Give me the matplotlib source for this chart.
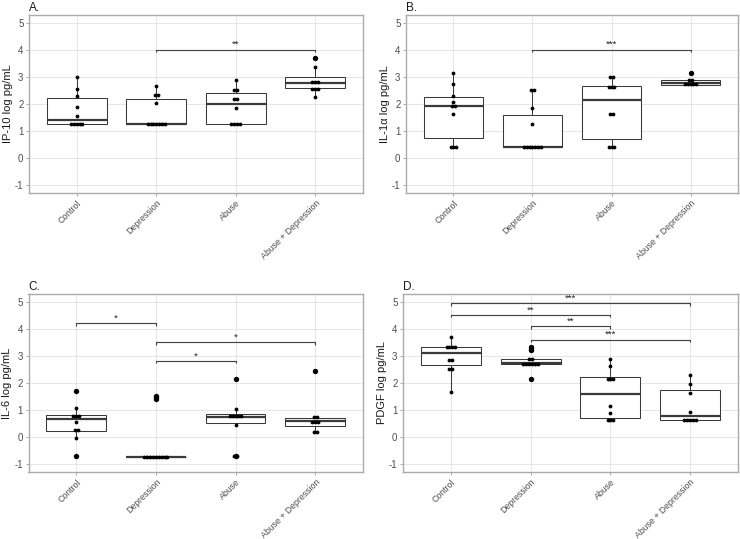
import matplotlib
matplotlib.use("Agg")
import matplotlib.pyplot as plt
from collections import Counter

plt.rcParams['font.family'] = ['Liberation Sans', 'DejaVu Sans']
plt.rcParams['axes.unicode_minus'] = False

categories = ["Control", "Depression", "Abuse", "Abuse + Depression"]
yticks = [-1, 0, 1, 2, 3, 4, 5]

# ---------------- Panel A: IP-10 ----------------
ip10_control = [3.00, 2.57, 2.31, 1.89, 1.54, 1.25, 1.25, 1.25, 1.25, 1.25]
ip10_depression = [2.66, 2.35, 2.35, 2.02, 1.25, 1.25, 1.25, 1.25, 1.25, 1.25, 1.25]
ip10_abuse = [2.90, 2.52, 2.52, 2.20, 2.20, 1.86, 1.25, 1.25, 1.25, 1.25]
ip10_abuse_dep = [3.69, 3.37, 2.81, 2.81, 2.81, 2.57, 2.57, 2.57, 2.26]
ip10_q1 = [1.25, 1.25, 1.25, 2.60]
ip10_med = [1.40, 1.25, 2.00, 2.78]
ip10_q3 = [2.22, 2.17, 2.39, 2.99]
ip10_lo = [1.25, 1.25, 1.25, 2.26]
ip10_hi = [3.00, 2.66, 2.90, 3.37]
ip10_out = [[], [], [], [3.69]]
ip10_sig_from = ["Depression"]
ip10_sig_to = ["Abuse + Depression"]
ip10_sig_y = [4.0]
ip10_sig_lab = ["**"]

# ---------------- Panel B: IL-1a ----------------
il1a_control = [3.16, 2.74, 2.28, 2.06, 1.93, 1.93, 1.62, 0.42, 0.42, 0.42]
il1a_depression = [2.50, 2.50, 1.87, 1.28, 0.42, 0.42, 0.42, 0.42, 0.42, 0.42, 0.42]
il1a_abuse = [3.00, 3.00, 2.63, 2.63, 2.63, 1.62, 1.62, 0.42, 0.42, 0.42]
il1a_abuse_dep = [3.15, 2.88, 2.88, 2.73, 2.73, 2.73, 2.73, 2.73]
il1a_q1 = [0.73, 0.42, 0.72, 2.70]
il1a_med = [1.93, 0.42, 2.13, 2.79]
il1a_q3 = [2.24, 1.58, 2.67, 2.87]
il1a_lo = [0.42, 0.42, 0.42, 2.70]
il1a_hi = [3.16, 2.50, 3.00, 2.88]
il1a_out = [[], [], [], [3.15]]
il1a_sig_from = ["Depression"]
il1a_sig_to = ["Abuse + Depression"]
il1a_sig_y = [4.0]
il1a_sig_lab = ["***"]

# ---------------- Panel C: IL-6 ----------------
il6_control = [1.72, 1.08, 0.78, 0.78, 0.78, 0.56, 0.27, 0.27, -0.04, -0.70]
il6_depression = [1.42, 1.47, 1.52] + [-0.71] * 9
il6_abuse = [2.16, 1.05, 0.80, 0.80, 0.80, 0.80, 0.80, 0.44, -0.70, -0.70]
il6_abuse_dep = [2.43, 0.74, 0.74, 0.56, 0.56, 0.56, 0.21, 0.21]
il6_q1 = [0.22, -0.71, 0.51, 0.41]
il6_med = [0.69, -0.71, 0.76, 0.59]
il6_q3 = [0.81, -0.71, 0.86, 0.72]
il6_lo = [-0.04, -0.71, 0.44, 0.21]
il6_hi = [1.08, -0.71, 1.05, 0.74]
il6_out = [[1.72, -0.70], [1.42, 1.47, 1.52], [2.16, -0.70], [2.43]]
il6_sig_from = ["Control", "Depression", "Depression"]
il6_sig_to = ["Depression", "Abuse + Depression", "Abuse"]
il6_sig_y = [4.20, 3.50, 2.81]
il6_sig_lab = ["*", "*", "*"]

# ---------------- Panel D: PDGF ----------------
pdgf_control = [3.70, 3.34, 3.34, 3.34, 3.34, 2.86, 2.86, 2.53, 2.53, 1.67]
pdgf_depression = [3.20, 3.26, 3.32, 2.88, 2.88] + [2.71] * 6 + [2.15]
pdgf_abuse = [2.87, 2.64, 2.16, 2.16, 2.16, 1.15, 0.88, 0.63, 0.63, 0.63]
pdgf_abuse_dep = [2.31, 1.98, 1.64, 0.93, 0.63, 0.63, 0.63, 0.63, 0.63]
pdgf_q1 = [2.66, 2.70, 0.72, 0.63]
pdgf_med = [3.10, 2.74, 1.61, 0.78]
pdgf_q3 = [3.34, 2.90, 2.22, 1.73]
pdgf_lo = [1.67, 2.70, 0.63, 0.63]
pdgf_hi = [3.70, 2.90, 2.87, 2.31]
pdgf_out = [[], [3.20, 3.26, 3.32, 2.15], [], []]
pdgf_sig_from = ["Control", "Control", "Depression", "Depression"]
pdgf_sig_to = ["Abuse + Depression", "Abuse", "Abuse", "Abuse + Depression"]
pdgf_sig_y = [4.94, 4.51, 4.09, 3.60]
pdgf_sig_lab = ["***", "**", "**", "***"]

BORDER = '#ABABAB'
GRID = '#E6E6E6'
LINE = '#3A3A3A'
TXT = '#4D4D4D'

fig = plt.figure(figsize=(7.4, 5.39), dpi=100)
W, H = 740.0, 539.0


def make_ax(l, r, t, b):
    return fig.add_axes([l / W, 1 - b / H, (r - l) / W, (b - t) / H])


def draw(ax, groups, q1, med, q3, lo, hi, outs, sfrom, sto, sy, slab, ylabel, title):
    pos = list(range(1, len(categories) + 1))
    stats = []
    for i in range(len(categories)):
        stats.append(dict(q1=q1[i], med=med[i], q3=q3[i], whislo=lo[i], whishi=hi[i], fliers=[]))
    ax.bxp(stats, positions=pos, widths=0.75, showfliers=False, showcaps=False,
           patch_artist=True, manage_ticks=False,
           boxprops=dict(facecolor='white', edgecolor=LINE, linewidth=0.75),
           medianprops=dict(color=LINE, linewidth=1.6, solid_capstyle='butt'),
           whiskerprops=dict(color=LINE, linewidth=0.75), zorder=2)
    for i, o in enumerate(outs):
        if o:
            ax.scatter([pos[i]] * len(o), o, s=15, c='black', linewidths=0, zorder=3)
    dx = 0.036
    for i, vals in enumerate(groups):
        cnt = Counter(vals)
        for v, n in cnt.items():
            xs = [pos[i] + (k - (n - 1) / 2.0) * dx for k in range(n)]
            ax.scatter(xs, [v] * n, s=7.5, c='black', linewidths=0, zorder=4)
    tip = 0.09
    for a, b, y, lab in zip(sfrom, sto, sy, slab):
        x0 = categories.index(a) + 1
        x1 = categories.index(b) + 1
        ax.plot([x0, x0, x1, x1], [y - tip, y, y, y - tip], color='#444444', lw=0.85,
                zorder=5, solid_capstyle='butt', clip_on=False)
        ax.text((x0 + x1) / 2.0, y + 0.02, lab, ha='center', va='bottom', fontsize=6.8,
                color='#222222', zorder=6)
    ax.set_xlim(0.4, 4.6)
    ax.set_ylim(-1.28, 5.28)
    ax.set_yticks(yticks)
    ax.set_yticklabels([str(t) for t in yticks])
    ax.set_xticks(pos)
    ax.set_xticklabels(categories, rotation=45, ha='right', va='top', rotation_mode='anchor')
    ax.grid(True, color=GRID, linewidth=0.7)
    ax.set_axisbelow(True)
    for s in ax.spines.values():
        s.set_color(BORDER)
        s.set_linewidth(1.0)
    ax.tick_params(axis='both', colors=BORDER, length=2.5, width=0.7,
                   labelcolor=TXT, pad=1.5)
    ax.tick_params(axis='y', labelsize=7)
    ax.tick_params(axis='x', labelsize=6.3)
    ax.set_ylabel(ylabel, fontsize=8, labelpad=1.5, color='#1A1A1A')
    ax.set_title(title, loc='left', fontsize=8.5, pad=3, color='#1A1A1A')


axA = make_ax(29, 363, 15, 193)
axB = make_ax(406, 738, 15, 193)
axC = make_ax(28.5, 363, 294, 472)
axD = make_ax(403, 738, 294, 472)

draw(axA, [ip10_control, ip10_depression, ip10_abuse, ip10_abuse_dep],
     ip10_q1, ip10_med, ip10_q3, ip10_lo, ip10_hi, ip10_out,
     ip10_sig_from, ip10_sig_to, ip10_sig_y, ip10_sig_lab, "IP-10 log pg/mL", "A.")
draw(axB, [il1a_control, il1a_depression, il1a_abuse, il1a_abuse_dep],
     il1a_q1, il1a_med, il1a_q3, il1a_lo, il1a_hi, il1a_out,
     il1a_sig_from, il1a_sig_to, il1a_sig_y, il1a_sig_lab, "IL-1\u03b1 log pg/mL", "B.")
draw(axC, [il6_control, il6_depression, il6_abuse, il6_abuse_dep],
     il6_q1, il6_med, il6_q3, il6_lo, il6_hi, il6_out,
     il6_sig_from, il6_sig_to, il6_sig_y, il6_sig_lab, "IL-6 log pg/mL", "C.")
draw(axD, [pdgf_control, pdgf_depression, pdgf_abuse, pdgf_abuse_dep],
     pdgf_q1, pdgf_med, pdgf_q3, pdgf_lo, pdgf_hi, pdgf_out,
     pdgf_sig_from, pdgf_sig_to, pdgf_sig_y, pdgf_sig_lab, "PDGF log pg/mL", "D.")

fig.savefig("out.png", dpi=100)
